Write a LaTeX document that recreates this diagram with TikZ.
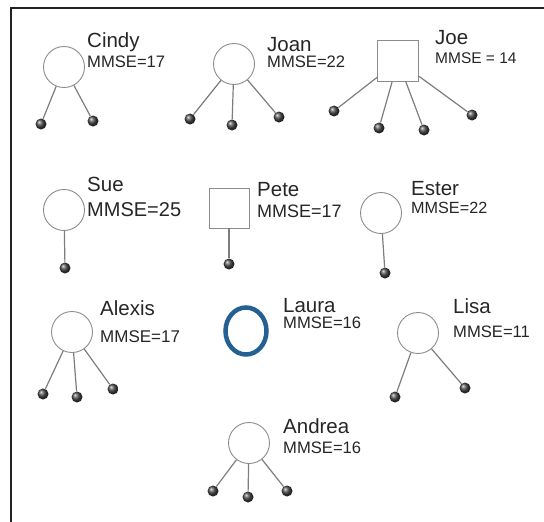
\documentclass[tikz,border=0pt]{standalone}
\usepackage{fontspec}
\setmainfont{Liberation Sans}
\usetikzlibrary{shapes.geometric}
\definecolor{linkgray}{RGB}{125,125,125}
\definecolor{ringgray}{RGB}{140,140,140}
\definecolor{framegray}{RGB}{34,34,34}
\definecolor{focusblue}{RGB}{36,96,146}
\tikzset{
  person/.style={circle, draw=ringgray, line width=0.9pt, minimum size=41pt, inner sep=0pt},
  man/.style={rectangle, draw=ringgray, line width=0.9pt, minimum width=41pt, minimum height=41pt, inner sep=0pt},
  focus/.style={ellipse, draw=focusblue, line width=4.5pt, minimum width=41pt, minimum height=47pt, inner sep=0pt},
  ballnode/.style={circle, minimum size=11pt, inner sep=0pt, shading=ball, ball color=black!72},
  link/.style={draw=linkgray, line width=1.2pt},
  who/.style={anchor=base west, inner sep=0pt, font=\fontsize{20.5}{22}\selectfont, text=black!85},
  score/.style={anchor=base west, inner sep=0pt, font=\fontsize{16.6}{18}\selectfont, text=black!85},
}
\begin{document}
\begin{tikzpicture}[x=1pt, y=-1pt]
\useasboundingbox (0,0) rectangle (544,522);
% frame edges
\draw[framegray, line width=2.5pt] (11,522) -- (11,8) -- (544,8);

% Cindy
\node[person] (cindy) at (64,67) {};
\node[ballnode] (cindy1) at (41,124) {};
\node[ballnode] (cindy2) at (93,121) {};
\draw[link] (cindy) -- (cindy1);
\draw[link] (cindy) -- (cindy2);
\node[who] (cindyname) at (87,47) {Cindy};
\node[score] (cindyscore) at (87,67) {MMSE=17};

% Joan
\node[person] (joan) at (234,64) {};
\node[ballnode] (joan1) at (190,119) {};
\node[ballnode] (joan2) at (232,125) {};
\node[ballnode] (joan3) at (279,117) {};
\draw[link] (joan) -- (joan1);
\draw[link] (joan) -- (joan2);
\draw[link] (joan) -- (joan3);
\node[who] (joanname) at (267,51) {Joan};
\node[score] (joanscore) at (267,67) {MMSE=22};

% Joe
\node[man] (joe) at (398,61) {};
\node[ballnode] (joe1) at (334,111) {};
\node[ballnode] (joe2) at (379,128) {};
\node[ballnode] (joe3) at (424,130) {};
\node[ballnode] (joe4) at (472,115) {};
\draw[link] (joe) -- (joe1);
\draw[link] (joe) -- (joe2);
\draw[link] (joe) -- (joe3);
\draw[link] (joe) -- (joe4);
\node[who] (joename) at (435,45) {Joe};
\node[score, font=\fontsize{15.5}{17}\selectfont] (joescore) at (435,63) {MMSE = 14};

% Sue
\node[person] (sue) at (64,210) {};
\node[ballnode] (sue1) at (65,268) {};
\draw[link] (sue) -- (sue1);
\node[who] (suename) at (87,191) {Sue};
\node[score, font=\fontsize{20}{22}\selectfont] (suescore) at (87,216) {MMSE=25};

% Pete
\node[man, minimum width=40pt, minimum height=40pt] (pete) at (229,208) {};
\node[ballnode] (pete1) at (229,264) {};
\draw[link] (pete) -- (pete1);
\node[who] (petename) at (257,196) {Pete};
\node[score, font=\fontsize{18}{20}\selectfont] (petescore) at (257,217) {MMSE=17};

% Ester
\node[person] (ester) at (381,213) {};
\node[ballnode] (ester1) at (385,273) {};
\draw[link] (ester) -- (ester1);
\node[who] (estername) at (411,195) {Ester};
\node[score, font=\fontsize{16.2}{18}\selectfont] (esterscore) at (411,213) {MMSE=22};

% Alexis
\node[person] (alexis) at (72,332) {};
\node[ballnode] (alexis1) at (43,394) {};
\node[ballnode] (alexis2) at (77,397) {};
\node[ballnode] (alexis3) at (113,389) {};
\draw[link] (alexis) -- (alexis1);
\draw[link] (alexis) -- (alexis2);
\draw[link] (alexis) -- (alexis3);
\node[who] (alexisname) at (100,315) {Alexis};
\node[score, font=\fontsize{17}{19}\selectfont] (alexisscore) at (100,342) {MMSE=17};

% Laura
\node[focus] (laura) at (246,331) {};
\node[who] (lauraname) at (283,312) {Laura};
\node[score] (laurascore) at (283,328) {MMSE=16};

% Lisa
\node[person] (lisa) at (418,333) {};
\node[ballnode] (lisa1) at (395,397) {};
\node[ballnode] (lisa2) at (465,388) {};
\draw[link] (lisa) -- (lisa1);
\draw[link] (lisa) -- (lisa2);
\node[who] (lisaname) at (453,313) {Lisa};
\node[score] (lisascore) at (453,337) {MMSE=11};

% Andrea
\node[person] (andrea) at (249,443) {};
\node[ballnode] (andrea1) at (213,491) {};
\node[ballnode] (andrea2) at (248,497) {};
\node[ballnode] (andrea3) at (287,491) {};
\draw[link] (andrea) -- (andrea1);
\draw[link] (andrea) -- (andrea2);
\draw[link] (andrea) -- (andrea3);
\node[who] (andreaname) at (283,433) {Andrea};
\node[score] (andreascore) at (283,453) {MMSE=16};
\end{tikzpicture}
\end{document}
